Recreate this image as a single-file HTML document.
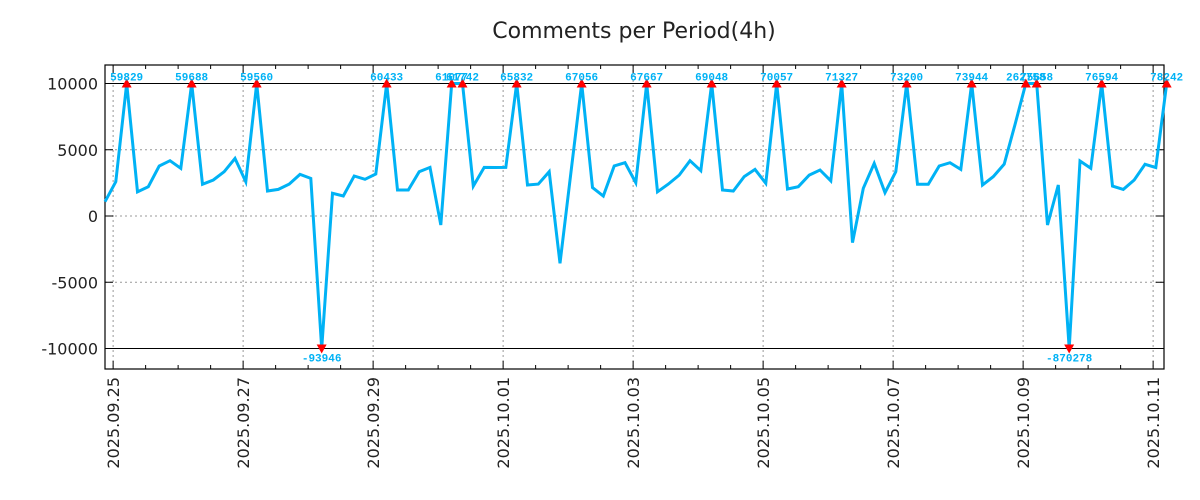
<!DOCTYPE html>
<html><head><meta charset="utf-8"><style>
body{margin:0;background:#fff;}
svg{display:block;font-family:"DejaVu Sans","Liberation Sans",sans-serif;}
</style></head><body>
<svg id="chart" width="1200" height="500" viewBox="0 0 1200 500" xmlns="http://www.w3.org/2000/svg">
<text x="634" y="38" text-anchor="middle" font-size="22" fill="#222">Comments per Period(4h)</text>
<g id="grid"></g><g id="axes"></g><g id="series"></g><g id="marks"></g>
</svg>
<script>
const values = [1080,2590,59829,1830,2210,3770,4170,3600,59688,2390,2720,3340,4350,2590,59560,1890,2010,2410,3140,2840,-93946,1710,1510,3020,2770,3170,60433,1960,1960,3340,3670,-680,61077,61742,2260,3670,3660,3670,65832,2340,2410,3340,-3570,3200,67056,2140,1510,3770,4020,2510,67667,1830,2410,3090,4170,3420,69048,1960,1890,2970,3520,2470,70057,2040,2210,3090,3470,2660,71327,-2010,2090,3970,1760,3340,73200,2390,2390,3770,4020,3520,73944,2340,2970,3920,6900,262758,75658,-680,2340,-870278,4150,3600,76594,2260,2010,2720,3900,3650,78242];
const startHour = -3; // hours relative to 2025.09.25 00:00
const stepHours = 4;
const yTicks = [10000,5000,0,-5000,-10000];
const xTickLabels = ["2025.09.25","2025.09.27","2025.09.29","2025.10.01","2025.10.03","2025.10.05","2025.10.07","2025.10.09","2025.10.11"];
const clipLimit = 10000;

const NS="http://www.w3.org/2000/svg";
const L=105,R=1164,T=65,B=369;
const hourPx=65/24;
function xOfHour(h){return L+(h-startHour)*hourPx;}
function xOf(i){return xOfHour(startHour+i*stepHours);}
function yOf(v){return 216-v*0.01325;}
function mk(tag,attrs,parent){const e=document.createElementNS(NS,tag);for(const k in attrs)e.setAttribute(k,attrs[k]);parent.appendChild(e);return e;}
const grid=document.getElementById('grid'),axes=document.getElementById('axes'),series=document.getElementById('series'),marks=document.getElementById('marks');

yTicks.forEach(v=>{
  const y=yOf(v);
  const solid=Math.abs(v)===clipLimit;
  const ln=mk('line',{x1:L,x2:R,y1:y,y2:y,stroke:solid?'#000':'#999','stroke-width':1,'stroke-dasharray':solid?'none':'2,3'},grid);
  
  
  mk('line',{x1:L,x2:L+8,y1:y,y2:y,stroke:'#000'},axes);
  mk('line',{x1:R,x2:R-8,y1:y,y2:y,stroke:'#000'},axes);
  const t=mk('text',{x:98,y:y+6,'text-anchor':'end','font-size':16,fill:'#222'},axes);
  t.textContent=String(v);
  
  
});
xTickLabels.forEach((lab,i)=>{
  const x=xOfHour(i*48);
  const g=mk('line',{x1:x,x2:x,y1:T,y2:B,stroke:'#999','stroke-dasharray':'2,3'},grid);
  
  
  mk('line',{x1:x,x2:x,y1:B,y2:B-8,stroke:'#000'},axes);
  mk('line',{x1:x,x2:x,y1:T,y2:T+8,stroke:'#000'},axes);
  const t=mk('text',{transform:`translate(${x+6},${377}) rotate(-90)`,'text-anchor':'end','font-size':16,fill:'#222'},axes);
  t.textContent=lab;
  
  
});
for(let h=12;h<=17*24;h+=12){ if(h%48===0)continue; const x=xOfHour(h); if(x>R)break;
  mk('line',{x1:x,x2:x,y1:B,y2:B-4,stroke:'#000'},axes);
  mk('line',{x1:x,x2:x,y1:T,y2:T+4,stroke:'#000'},axes);
}
const frame=mk('rect',{x:L,y:T,width:R-L,height:B-T,fill:'none',stroke:'#000','stroke-width':1.2},axes);



const clip=v=>Math.max(-clipLimit,Math.min(clipLimit,v));
const pts=values.map((v,i)=>xOf(i).toFixed(1)+','+yOf(clip(v)).toFixed(1)).join(' ');
const line=mk('polyline',{points:pts,fill:'none',stroke:'#00b2f5','stroke-width':3,'stroke-linejoin':'miter'},series);



values.forEach((v,i)=>{
  if(Math.abs(v)<=clipLimit)return;
  const x=xOf(i);
  if(v>0){
    const y=yOf(clipLimit);
    const m=mk('polygon',{points:`${x-5},${y+4} ${x+5},${y+4} ${x},${y-5}`,fill:'#f00'},marks);
    
    
    const t=mk('text',{x:x,y:y-3,'text-anchor':'middle','font-size':11,'font-weight':'bold','font-family':'Liberation Mono, monospace',fill:'#00b2f5'},marks);
    t.textContent=String(v);
    
    
  } else {
    const y=yOf(-clipLimit);
    const m=mk('polygon',{points:`${x-5},${y-4} ${x+5},${y-4} ${x},${y+5}`,fill:'#f00'},marks);
    
    
    const t=mk('text',{x:x,y:y+13,'text-anchor':'middle','font-size':11,'font-weight':'bold','font-family':'Liberation Mono, monospace',fill:'#00b2f5'},marks);
    t.textContent=String(v);
    
    
  }
});
</script>
</body></html>
